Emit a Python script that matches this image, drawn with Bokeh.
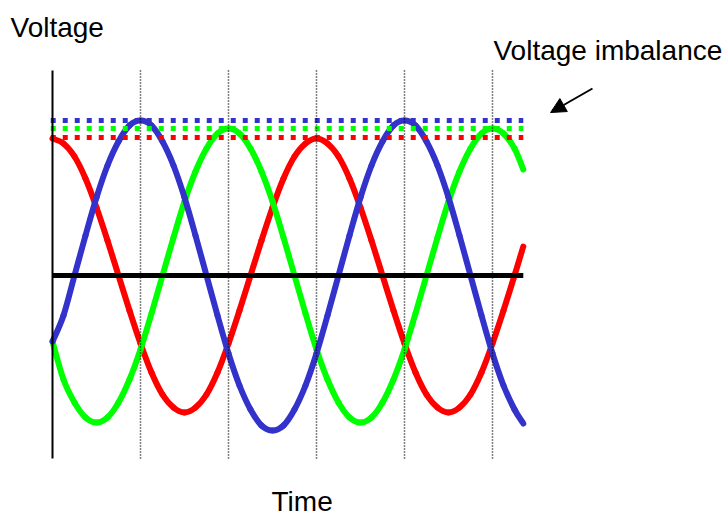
from bokeh.plotting import figure
from bokeh.models import Range1d, Arrow, NormalHead, ColumnDataSource
from bokeh.embed import file_html
from bokeh.resources import INLINE
from bokeh.core.properties import value

# time in units of one third of a period (dotted markers at 1..5)
time = [0, 0.125, 0.25, 0.375, 0.5, 0.625, 0.75, 0.875,
        1, 1.125, 1.25, 1.375, 1.5, 1.625, 1.75, 1.875,
        2, 2.125, 2.25, 2.375, 2.5, 2.625, 2.75, 2.875,
        3, 3.125, 3.25, 3.375, 3.5, 3.625, 3.75, 3.875,
        4, 4.125, 4.25, 4.375, 4.5, 4.625, 4.75, 4.875,
        5, 5.125, 5.25, 5.35]

red_v = [137, 132, 119, 97, 68, 35, 0, -35, -68, -97, -119, -132,
         -137, -132, -119, -97, -68, -35, 0, 35, 68, 97, 119, 132,
         137, 132, 119, 97, 68, 35, 0, -35, -68, -97, -119, -132,
         -137, -132, -119, -97, -68, -35, 0, 29]
green_v = [-66, -104, -127, -142, -147, -142, -127, -104, -74, -38, 0, 38,
           74, 104, 127, 142, 147, 142, 127, 104, 74, 38, 0, -38,
           -74, -104, -127, -142, -147, -142, -127, -104, -74, -38, 0, 38,
           74, 104, 127, 142, 147, 142, 127, 106]
blue_v = [-66, -40, 0, 40, 78, 110, 134, 150, 155, 150, 134, 110,
          78, 40, 0, -40, -78, -110, -134, -150, -155, -150, -134, -110,
          -78, -40, 0, 40, 78, 110, 134, 150, 155, 150, 134, 110,
          78, 40, 0, -40, -78, -110, -134, -148]

peak_levels = {"blue": 155, "green": 147, "red": 138}
markers = [1, 2, 3, 4, 5]

RED = "#ff0000"
GREEN = "#00ff00"
BLUE = "#3333cc"
FONT = "Liberation Sans"

W, H = 722, 517
p = figure(width=W, height=H, output_backend="svg", toolbar_location=None,
           x_range=Range1d(-52 / 88.0, (W - 52) / 88.0),
           y_range=Range1d(275 - H, 275),
           min_border=0, min_border_left=0, min_border_right=0,
           min_border_top=0, min_border_bottom=0)
p.xaxis.visible = False
p.yaxis.visible = False
p.grid.visible = False
p.outline_line_color = None
p.background_fill_color = "white"
p.border_fill_color = "white"

t_end = time[-1]
y_top, y_bot = 205, -183


def smooth_source(xs, ys):
    """Catmull-Rom style cubic segments through the read points (rendering only)."""
    n = len(xs)
    d = dict(x0=[], y0=[], x1=[], y1=[], cx0=[], cy0=[], cx1=[], cy1=[])
    for i in range(n - 1):
        i0, i3 = max(i - 1, 0), min(i + 2, n - 1)
        d["x0"].append(xs[i]); d["y0"].append(ys[i])
        d["x1"].append(xs[i + 1]); d["y1"].append(ys[i + 1])
        d["cx0"].append(xs[i] + (xs[i + 1] - xs[i0]) / 6.0)
        d["cy0"].append(ys[i] + (ys[i + 1] - ys[i0]) / 6.0)
        d["cx1"].append(xs[i + 1] - (xs[i3] - xs[i]) / 6.0)
        d["cy1"].append(ys[i + 1] - (ys[i3] - ys[i]) / 6.0)
    return ColumnDataSource(d)


# waveforms
for vals, col in ((red_v, RED), (green_v, GREEN), (blue_v, BLUE)):
    p.bezier(x0="x0", y0="y0", x1="x1", y1="y1", cx0="cx0", cy0="cy0",
             cx1="cx1", cy1="cy1", source=smooth_source(time, vals),
             line_color=col, line_width=6, line_cap="round")

# zero line
p.line([0, t_end], [0, 0], line_color="black", line_width=5)

# peak level dotted lines
for name, col in (("blue", BLUE), ("green", GREEN), ("red", RED)):
    lv = peak_levels[name]
    p.line([-0.02, t_end], [lv, lv], line_color=col, line_width=5, line_dash="5 7")

# vertical dotted markers
for m in markers:
    p.line([m, m], [y_top, y_bot], line_color="black", line_width=1.5, line_dash="1 2")

# y axis line
p.line([0, 0], [y_top, y_bot], line_color="black", line_width=2)

# texts
p.text(x=[-0.477], y=[248], text=["Voltage"], text_font=value(FONT),
       text_font_size="28px", text_color="black", text_baseline="alphabetic")
p.text(x=[5.011], y=[225], text=["Voltage imbalance"], text_font=value(FONT),
       text_font_size="28px", text_color="black", text_baseline="alphabetic")
p.text(x=[2.489], y=[-226], text=["Time"], text_font=value(FONT),
       text_font_size="28px", text_color="black", text_baseline="alphabetic")

p.add_layout(Arrow(end=NormalHead(size=15, fill_color="black", line_color="black"),
                   x_start=6.136, y_start=187, x_end=5.66, y_end=163,
                   line_color="black", line_width=2))

open("out.html", "w").write(file_html(p, INLINE))
